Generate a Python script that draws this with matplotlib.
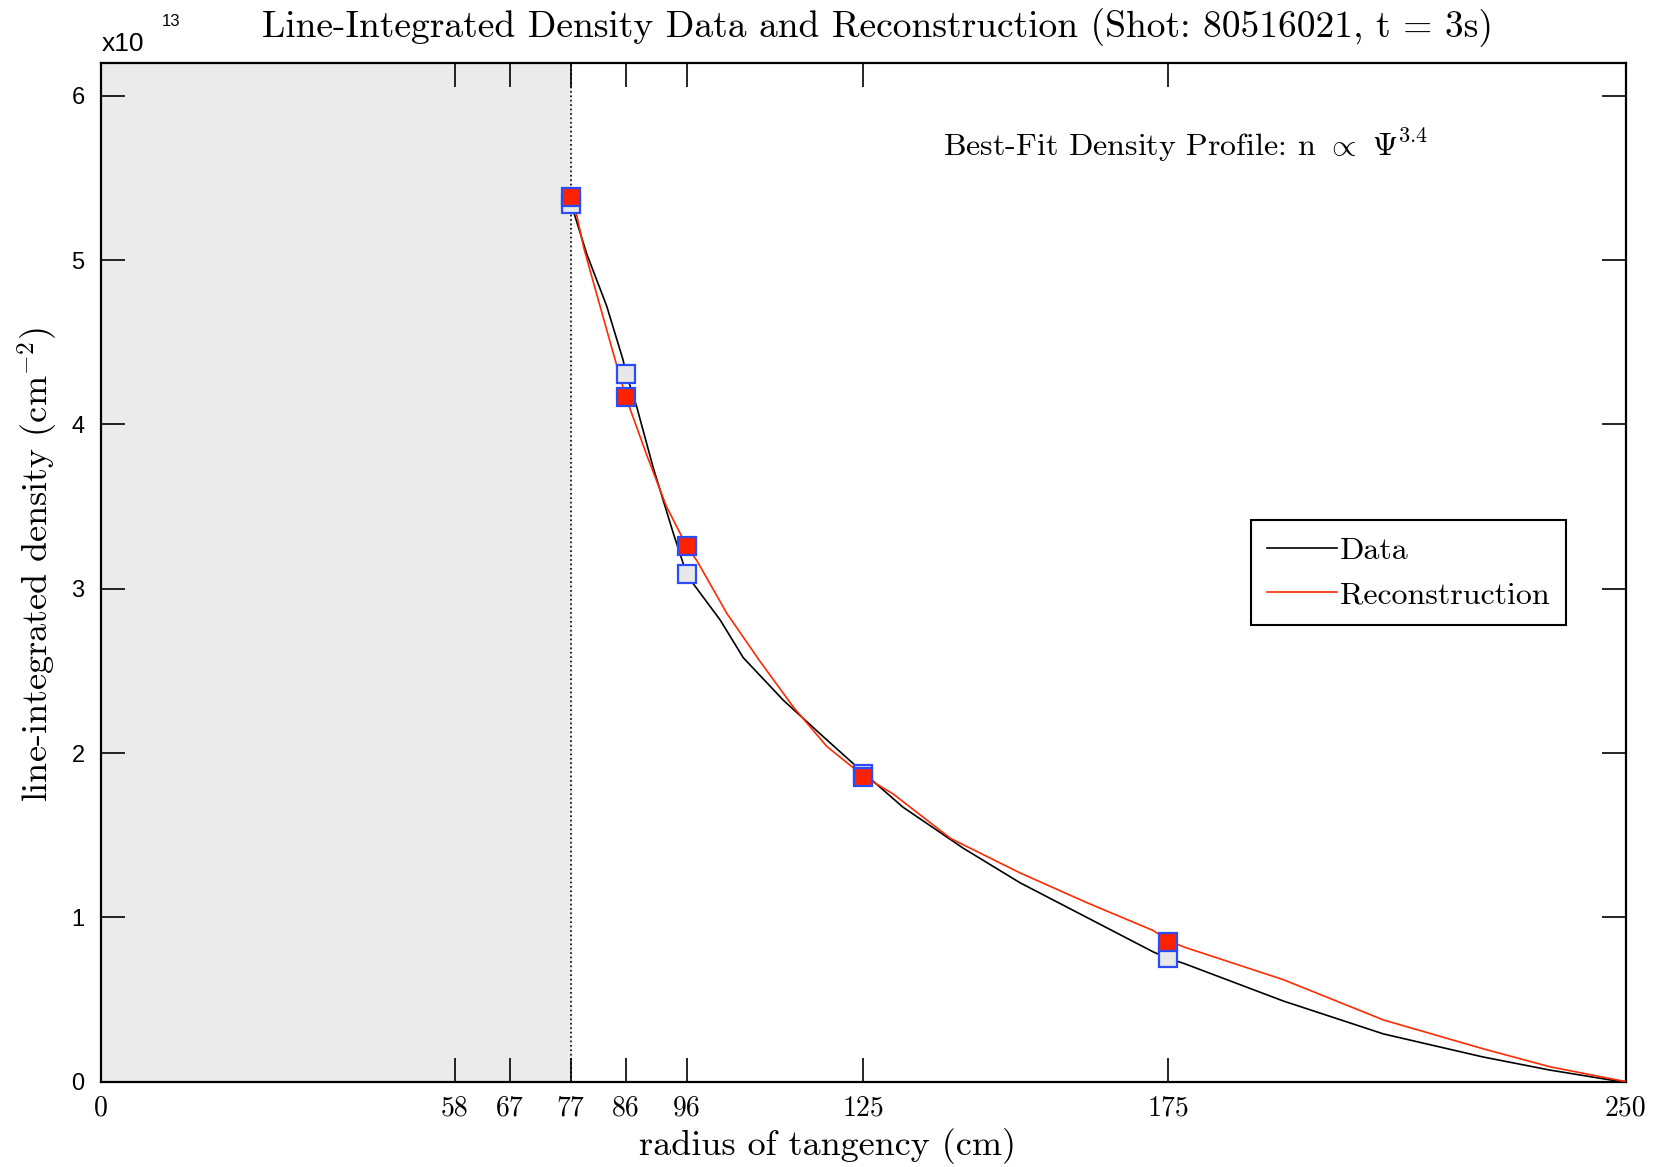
import numpy as np
import matplotlib
matplotlib.use("Agg")
import matplotlib.pyplot as plt

plt.rcParams['font.family'] = 'cmr10'
plt.rcParams['mathtext.fontset'] = 'cm'
plt.rcParams['axes.unicode_minus'] = False
plt.rcParams['axes.formatter.use_mathtext'] = True

# traced curves (radius in cm, density in units of 1e13 cm^-2)
data_r = [77, 79.6, 82.9, 85.6, 86, 87.8, 90.5, 93.8, 96, 97.1, 101.5, 105.3,
          111.9, 118.4, 125, 131.5, 141.4, 150.7, 161.6, 172.5, 175, 177.5,
          193.9, 210.3, 226.6, 237.6, 247.5, 250]
data_n = [5.35, 5.04, 4.72, 4.39, 4.32, 4.11, 3.74, 3.34, 3.09, 3.03, 2.81, 2.58,
          2.32, 2.10, 1.88, 1.67, 1.42, 1.21, 1.00, 0.79, 0.75, 0.72,
          0.49, 0.29, 0.15, 0.07, 0.01, 0.0]

recon_r = [77, 78, 79.1, 81.2, 84.0, 86, 89.4, 92.7, 96, 97.7, 102.6, 108.0,
           113.5, 119.0, 125, 129.9, 139.3, 150.7, 161.6, 172.5, 175, 177.5,
           193.9, 210.3, 226.6, 237.6, 250]
recon_n = [5.40, 5.27, 5.08, 4.80, 4.43, 4.17, 3.82, 3.50, 3.26, 3.17, 2.85, 2.56,
           2.28, 2.04, 1.86, 1.75, 1.48, 1.27, 1.09, 0.92, 0.86, 0.82,
           0.62, 0.375, 0.20, 0.09, 0.0]

# chord measurements (squares)
chord_r = [77, 86, 96, 125, 175]
chord_data = [5.34, 4.31, 3.09, 1.875, 0.75]
chord_recon = [5.385, 4.17, 3.26, 1.855, 0.847]

r_inner = 77
xticks = [0, 58, 67, 77, 86, 96, 125, 175, 250]
yticks = [0, 1, 2, 3, 4, 5, 6]

fig = plt.figure(figsize=(16.55, 11.67), dpi=100)
ax = fig.add_axes([0.0612, 0.0732, 0.921, 0.8728])

ax.axvspan(0, r_inner, color='#ebebeb', zorder=0)
ax.axvline(r_inner, color='black', linestyle=':', linewidth=1.2, zorder=1)

ax.plot(data_r, data_n, color='black', linewidth=1.2, label='Data', zorder=3)
ax.plot(recon_r, recon_n, color='#ff2a00', linewidth=1.2, label='Reconstruction', zorder=3)

ax.plot(chord_r, chord_data, linestyle='none', marker='s', markersize=13,
        markerfacecolor='#e8e8e8', markeredgecolor='#2a4bff', markeredgewidth=1.6, zorder=4)
ax.plot(chord_r, chord_recon, linestyle='none', marker='s', markersize=13,
        markerfacecolor='#ff2200', markeredgecolor='#2a4bff', markeredgewidth=1.6, zorder=5)

ax.set_xlim(0, 250)
ax.set_ylim(0, 6.2)
ax.set_xticks(xticks)
ax.set_xticklabels([str(t) for t in xticks])
ax.set_yticks(yticks)
ax.set_yticklabels([str(t) for t in yticks])
ax.tick_params(direction='in', length=17, width=1.2, top=True, right=True)
ax.tick_params(axis='x', labelsize=20, pad=10)
ax.tick_params(axis='y', labelsize=17, pad=12)
for lab in ax.get_yticklabels():
    lab.set_fontfamily('Liberation Sans')
for sp in ax.spines.values():
    sp.set_linewidth(1.6)

ax.text(0.0, 1.007, 'x10', transform=ax.transAxes, fontsize=19,
        family='Liberation Sans', ha='left', va='bottom')
ax.text(0.0395, 1.033, '13', transform=ax.transAxes, fontsize=12,
        family='Liberation Sans', ha='left', va='bottom')

fig.text(0.53, 0.976, 'Line-Integrated Density Data and Reconstruction (Shot: 80516021, t = 3s)',
         fontsize=27, ha='center', va='center')
fig.text(0.5, 0.018, 'radius of tangency (cm)', fontsize=26, ha='center', va='center')
fig.text(0.023, 0.516, r'line-integrated density (cm$^{-2}$)', fontsize=26,
         ha='center', va='center', rotation=90)

ax.text(0.552, 0.919, r'Best-Fit Density Profile: n $\propto$ $\Psi^{3.4}$',
        transform=ax.transAxes, fontsize=23, ha='left', va='center')

leg = ax.legend(loc='upper left', bbox_to_anchor=(0.754, 0.551), fontsize=23,
                handlelength=2.2, handletextpad=0.1, borderpad=0.5, labelspacing=0.5,
                fancybox=False, framealpha=1, edgecolor='black', borderaxespad=0)
leg.get_frame().set_linewidth(1.5)

fig.savefig('out.png', dpi=100)
